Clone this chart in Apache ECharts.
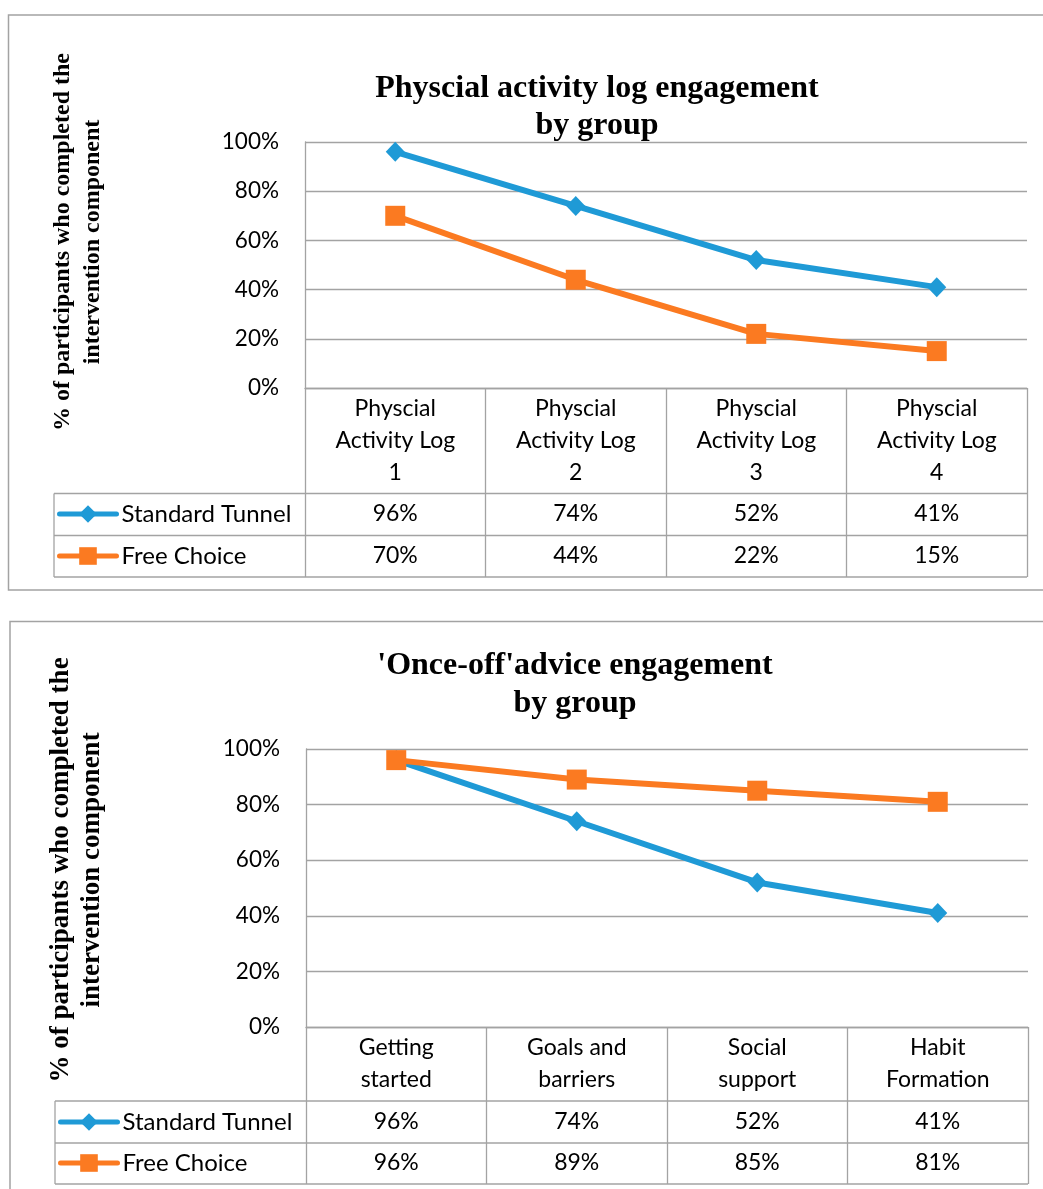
<!DOCTYPE html>
<html>
<head>
<meta charset="utf-8">
<script src="https://cdn.jsdelivr.net/npm/echarts@6/dist/echarts.min.js"></script>
<style>
  html, body { margin: 0; padding: 0; background: #fff; }
  #chart { width: 1043px; height: 1189px; }
</style>
</head>
<body>
<div id="chart"></div>
<script>
// top chart: physical activity log
const logCategories = ['Physcial\nActivity Log\n1', 'Physcial\nActivity Log\n2', 'Physcial\nActivity Log\n3', 'Physcial\nActivity Log\n4'];
const logStandard = [0.96, 0.74, 0.52, 0.41];
const logFree = [0.70, 0.44, 0.22, 0.15];

// bottom chart: once-off advice
const adviceCategories = ['Getting\nstarted', 'Goals and\nbarriers', 'Social\nsupport', 'Habit\nFormation'];
const adviceStandard = [0.96, 0.74, 0.52, 0.41];
const adviceFree = [0.96, 0.89, 0.85, 0.81];

const seriesNames = ['Standard Tunnel', 'Free Choice'];
const yTitle = '% of participants who completed the\nintervention component';

const BLUE = '#1f9ad6';
const ORANGE = '#fb7a21';
const GRAY = '#a3a3a3';
const SANS = 'Lato';
const SERIF = 'Liberation Serif';

const pct = v => Math.round(v * 100) + '%';

const chart = echarts.init(document.getElementById('chart'));

function catAxis(grid, cats, tickLen) {
    return {
        gridIndex: grid, type: 'category', data: cats,
        axisLine: { lineStyle: { color: GRAY, width: 1.3 } },
        axisTick: { show: true, length: tickLen, lineStyle: { color: GRAY, width: 1.3 } },
        axisLabel: { interval: 0, margin: 5, fontSize: 23, lineHeight: 32, color: '#000', fontFamily: SANS },
        splitLine: { show: false }
    };
}

function rowAxis(grid, cats, values, offset) {
    return {
        gridIndex: grid, type: 'category', data: cats, position: 'bottom', offset: offset,
        axisLine: { show: false }, axisTick: { show: false }, splitLine: { show: false },
        axisLabel: {
            interval: 0, margin: 0, verticalAlign: 'middle', fontSize: 23, color: '#000', fontFamily: SANS,
            formatter: (v, i) => pct(values[i])
        }
    };
}

function valAxis(grid) {
    return {
        gridIndex: grid, type: 'value', min: 0, max: 1, interval: 0.2,
        axisLine: { show: true, lineStyle: { color: GRAY, width: 1.3 } },
        axisTick: { show: false },
        axisLabel: { margin: 26, fontSize: 22.5, color: '#000', fontFamily: SANS, formatter: v => pct(v) },
        splitLine: { lineStyle: { color: GRAY, width: 1.3 } }
    };
}

function lineSeries(name, xi, yi, data) {
    const blue = name === seriesNames[0];
    return {
        name: name, type: 'line', xAxisIndex: xi, yAxisIndex: yi, data: data,
        symbol: blue ? 'diamond' : 'rect', symbolSize: blue ? [19, 20] : 20,
        lineStyle: { width: 6, color: blue ? BLUE : ORANGE },
        itemStyle: { color: blue ? BLUE : ORANGE },
        animation: false
    };
}

function legendAt(left, top, gap) {
    return {
        data: seriesNames, orient: 'vertical', left: left, top: top, padding: 0,
        itemWidth: 57, itemHeight: 22, itemGap: gap, selectedMode: false,
        lineStyle: { width: 5, cap: 'round' },
        textStyle: { fontSize: 24, color: '#000', fontFamily: SANS, lineHeight: 22 }
    };
}

function hline(x1, x2, y) {
    return { type: 'line', shape: { x1: x1, y1: y, x2: x2, y2: y }, style: { stroke: GRAY, lineWidth: 1.3 } };
}
function vline(x, y1, y2) {
    return { type: 'line', shape: { x1: x, y1: y1, x2: x, y2: y2 }, style: { stroke: GRAY, lineWidth: 1.3 } };
}

const option = {
    animation: false,
    title: [
        {
            text: 'Physcial activity log engagement\nby group', left: 597, top: 70, textAlign: 'center', padding: 0,
            textStyle: { fontSize: 32, lineHeight: 37, fontFamily: SERIF, fontWeight: 'bold', color: '#000' }
        },
        {
            text: "'Once-off'advice engagement\nby group", left: 575, top: 647, textAlign: 'center', padding: 0,
            textStyle: { fontSize: 32, lineHeight: 38, fontFamily: SERIF, fontWeight: 'bold', color: '#000' }
        }
    ],
    legend: [legendAt(57, 502, 18), legendAt(58, 1110, 17)],
    grid: [
        { left: 305, top: 142, width: 722, height: 246 },
        { left: 306, top: 749, width: 722, height: 278 }
    ],
    xAxis: [
        catAxis(0, logCategories, 189),
        rowAxis(0, logCategories, logStandard, 126),
        rowAxis(0, logCategories, logFree, 168),
        catAxis(1, adviceCategories, 157),
        rowAxis(1, adviceCategories, adviceStandard, 95),
        rowAxis(1, adviceCategories, adviceFree, 136)
    ],
    yAxis: [valAxis(0), valAxis(1)],
    series: [
        lineSeries(seriesNames[0], 0, 0, logStandard),
        lineSeries(seriesNames[1], 0, 0, logFree),
        lineSeries(seriesNames[0], 3, 1, adviceStandard),
        lineSeries(seriesNames[1], 3, 1, adviceFree)
    ],
    graphic: [
        // outer frames
        { type: 'rect', shape: { x: 8.5, y: 15, width: 1100, height: 575 }, style: { fill: 'none', stroke: GRAY, lineWidth: 1.5 } },
        { type: 'rect', shape: { x: 10, y: 621.5, width: 1100, height: 700 }, style: { fill: 'none', stroke: GRAY, lineWidth: 1.5 } },
        // data table lines
        hline(54, 1027, 493.5), hline(54, 1027, 535.5), hline(54, 1027, 577),
        vline(54, 493.5, 577),
        hline(55, 1028, 1101), hline(55, 1028, 1143), hline(55, 1028, 1184),
        vline(55, 1101, 1184),
        // rotated y titles
        {
            type: 'text', x: 78, y: 242, rotation: Math.PI / 2,
            style: { text: yTitle, align: 'center', verticalAlign: 'middle', font: 'bold 24px "Liberation Serif"', lineHeight: 30, fill: '#000' }
        },
        {
            type: 'text', x: 77, y: 870, rotation: Math.PI / 2,
            style: { text: yTitle, align: 'center', verticalAlign: 'middle', font: 'bold 27px "Liberation Serif"', lineHeight: 31, fill: '#000' }
        }
    ]
};

chart.setOption(option);
</script>
</body>
</html>
